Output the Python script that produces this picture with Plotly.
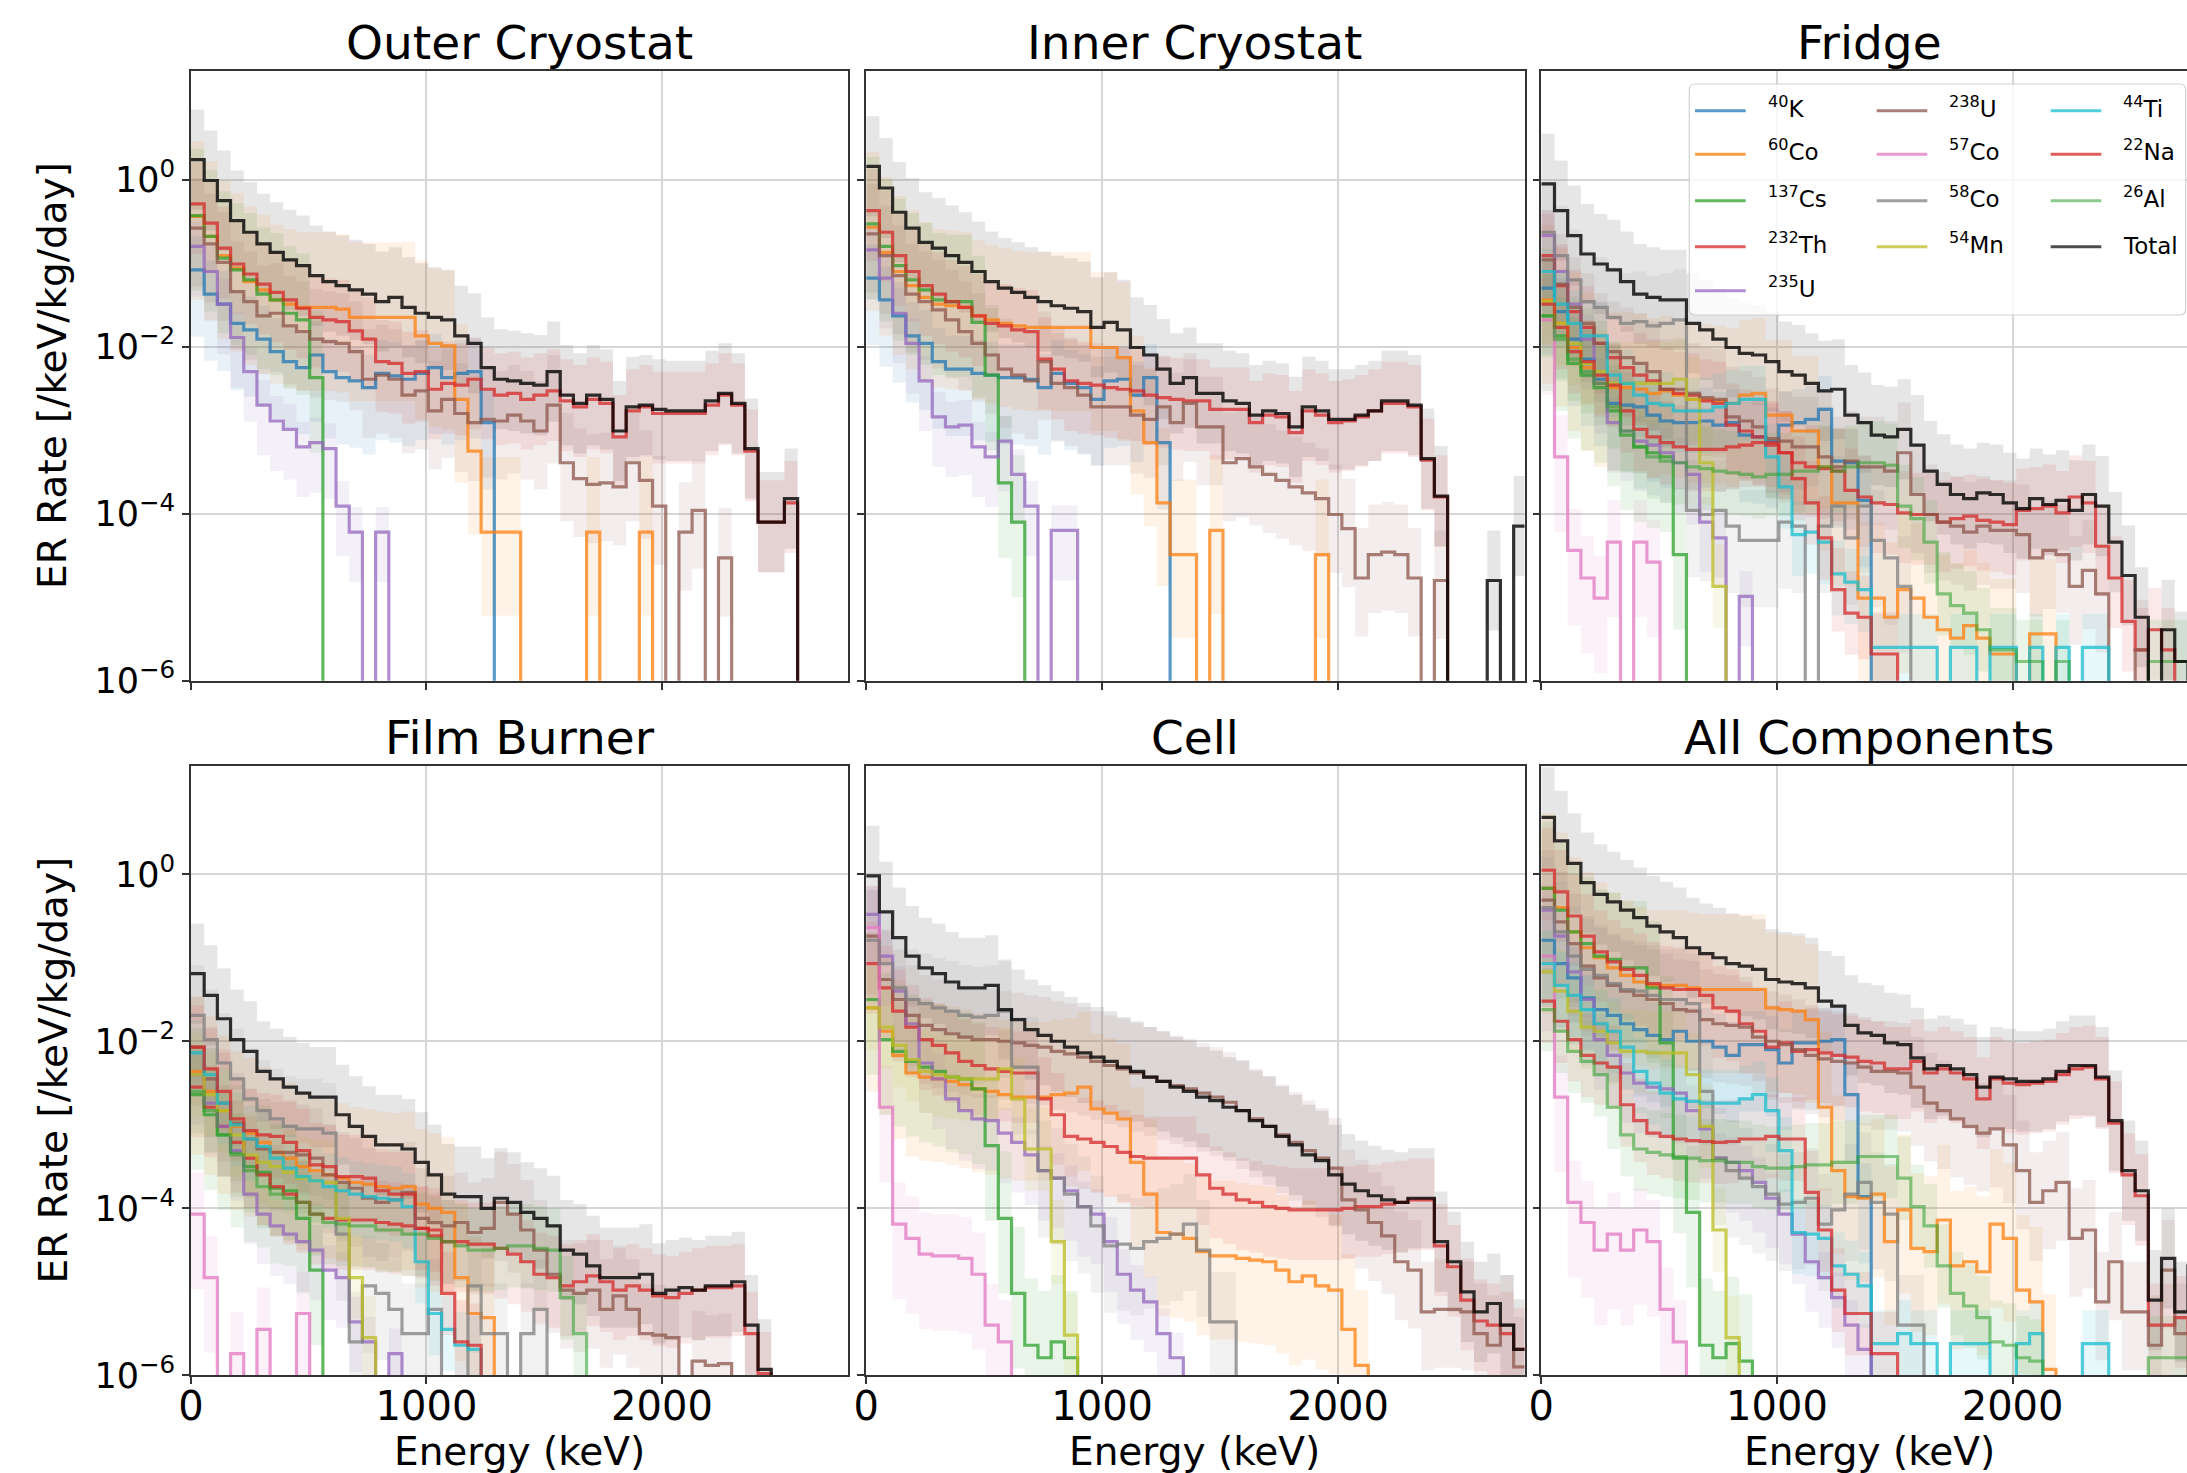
import plotly.graph_objects as go

N = None
N_BINS = 50
BIN_WIDTH_KEV = 56
FLOOR = 1e-9

# ---------------- isotope metadata ----------------
ISOTOPES = ["K40", "Co60", "Cs137", "Th232", "U235", "U238",
            "Co57", "Co58", "Mn54", "Ti44", "Na22", "Al26"]
ISO_LABELS = ["<sup>40</sup>K", "<sup>60</sup>Co", "<sup>137</sup>Cs", "<sup>232</sup>Th",
              "<sup>235</sup>U", "<sup>238</sup>U", "<sup>57</sup>Co", "<sup>58</sup>Co",
              "<sup>54</sup>Mn", "<sup>44</sup>Ti", "<sup>22</sup>Na", "<sup>26</sup>Al"]
ISO_RGB = [(31, 119, 180), (255, 127, 14), (44, 160, 44), (214, 39, 40), (148, 103, 189),
           (140, 86, 75), (227, 119, 194), (127, 127, 127), (188, 189, 34), (23, 190, 207),
           (214, 39, 40), (44, 160, 44)]
LINE_ALPHA = [0.75, 0.75, 0.75, 0.75, 0.75, 0.75, 0.75, 0.75, 0.75, 0.75, 0.75, 0.55]
# uncertainty band half-widths (decades above / below the central value)
BAND_UP = [0.4, 0.9, 0.8, 0.5, 0.3, 0.6, 0.5, 0.6, 0.5, 0.4, 0.5, 0.5]
BAND_DN = [0.8, 1.0, 0.9, 0.6, 0.6, 0.7, 0.9, 0.8, 0.5, 0.5, 0.5, 0.5]
TOTAL_UP = 0.6
TOTAL_DN = 0.6

# ---------------- data: log10(rate) per 56 keV bin (None = empty) ----------------
# Outer Cryostat
OC_K40 = [-1.08, -1.37, -1.49, -1.72, -1.80, -1.91, -2.06, -2.18, -2.25, -2.10, -2.30, -2.37, -2.41, -2.49,
          -2.32, -2.35, -2.39, -2.32, -2.25, -2.37, -2.32, -2.30, -2.91]
OC_Co60 = [-0.44, -0.68, -0.91, -1.06, -1.22, -1.32, -1.44, -1.49, -1.53, -1.53, -1.53, -1.55, -1.65, -1.65,
           -1.65, -1.65, -1.65, -1.87, -1.96, -1.99, -2.63, -3.25, -4.22, -4.22, -4.22, N, N, N, N, N,
           -4.22, N, N, N, -4.22]
OC_Cs137 = [-0.43, -0.68, -0.94, -1.08, -1.20, -1.37, -1.44, -1.60, -1.68, -2.37]
OC_Th232 = [-0.29, -0.52, -0.82, -1.01, -1.13, -1.25, -1.35, -1.44, -1.54, -1.65, -1.68, -1.70, -1.81, -1.91,
            -2.18, -2.20, -2.32, -2.30, -2.51, -2.44, -2.46, -2.39, -2.51, -2.58, -2.56, -2.63, -2.58, -2.53,
            -2.65, -2.72, -2.63, -2.68, -3.08, -2.77, -2.72, -2.80, -2.80, -2.80, -2.80, -2.70, -2.58, -2.70,
            -3.25, -4.10, -4.10, -3.87]
OC_U235 = [-0.80, -1.10, -1.49, -1.89, -2.30, -2.70, -2.89, -2.99, -3.20, -3.15, -3.22, -3.91, -4.22, N, -4.22]
OC_U238 = [-0.58, -0.77, -0.99, -1.34, -1.46, -1.63, -1.60, -1.75, -1.82, -1.91, -1.94, -1.96, -2.06, -2.39,
           -2.34, -2.39, -2.58, -2.53, -2.77, -2.63, -2.80, -2.91, -2.87, -2.89, -2.82, -2.89, -3.01, -2.70,
           -3.39, -3.58, -3.65, -3.63, -3.68, -3.39, -3.60, -3.91, N, -4.22, -3.96, N, -4.53]
OC_Total = [0.24, -0.01, -0.25, -0.49, -0.63, -0.77, -0.87, -0.96, -1.03, -1.15, -1.22, -1.27, -1.32, -1.37,
            -1.46, -1.41, -1.53, -1.60, -1.65, -1.68, -1.87, -1.96, -2.25, -2.39, -2.41, -2.44, -2.46, -2.30,
            -2.58, -2.68, -2.58, -2.63, -3.01, -2.72, -2.70, -2.75, -2.77, -2.77, -2.77, -2.65, -2.56, -2.68,
            -3.22, -4.10, -4.10, -3.82]

# Inner Cryostat
IC_K40 = [-1.18, -1.44, -1.63, -1.87, -1.96, -2.18, -2.27, -2.27, -2.32, -2.34, -2.37, -2.37, -2.39, -2.49,
          -2.32, -2.44, -2.49, -2.63, -2.41, -2.39, -2.58, -2.37, -3.15]
IC_Co60 = [-0.57, -0.87, -1.10, -1.27, -1.41, -1.49, -1.51, -1.53, -1.63, -1.68, -1.72, -1.75, -1.77, -1.77,
           -1.77, -1.77, -1.77, -2.01, -2.01, -2.13, -2.77, -3.15, -3.87, -4.49, -4.49, N, -4.20, N, N, N,
           N, N, N, N, -4.49]
IC_Cs137 = [-0.53, -0.80, -1.03, -1.20, -1.32, -1.44, -1.46, -1.46, -1.71, -2.34, -3.63, -4.10]
IC_Th232 = [-0.37, -0.63, -0.91, -1.10, -1.27, -1.37, -1.46, -1.53, -1.63, -1.72, -1.75, -1.80, -1.82, -2.15,
            -2.27, -2.41, -2.44, -2.46, -2.49, -2.51, -2.53, -2.58, -2.61, -2.63, -2.65, -2.65, -2.75, -2.75,
            -2.75, -2.91, -2.82, -2.84, -3.03, -2.77, -2.82, -2.91, -2.89, -2.84, -2.77, -2.68, -2.68, -2.72,
            -3.36, -3.80]
IC_U235 = [-0.84, -1.18, -1.60, -1.96, -2.41, -2.84, -2.96, -2.94, -3.20, -3.32, -3.13, -3.53, -3.91, N,
           -4.20, -4.20]
IC_U238 = [-0.65, -0.91, -1.15, -1.37, -1.46, -1.56, -1.68, -1.82, -1.96, -2.10, -2.27, -2.34, -2.41, -2.18,
           -2.44, -2.49, -2.58, -2.72, -2.72, -2.72, -2.82, -2.87, -2.72, -2.91, -2.68, -2.96, -2.96, -3.39,
           -3.34, -3.44, -3.53, -3.60, -3.68, -3.75, -3.82, -4.01, -4.18, -4.77, -4.49, -4.46, -4.49, -4.77,
           N, -4.80]
IC_Total = [0.16, -0.10, -0.39, -0.58, -0.75, -0.82, -0.91, -0.99, -1.10, -1.22, -1.30, -1.35, -1.41, -1.46,
            -1.51, -1.54, -1.58, -1.77, -1.71, -1.80, -2.01, -2.10, -2.27, -2.44, -2.37, -2.56, -2.56, -2.65,
            -2.68, -2.82, -2.77, -2.80, -2.96, -2.72, -2.77, -2.87, -2.87, -2.82, -2.77, -2.65, -2.65, -2.70,
            -3.34, -3.79, N, N, N, -4.80, N, -4.15]

# Fridge
FR_K40 = [-1.30, -1.58, -1.91, -2.15, -2.39, -2.68, -2.70, -2.72, -2.82, -2.89, -2.91, -2.91, -2.89, -2.94,
          -2.91, -3.06, -3.08, -3.13, -2.94, -2.91, -2.87, -2.75, -3.37, -3.39, -3.84]
FR_Co60 = [-1.44, -1.72, -2.01, -2.25, -2.44, -2.49, -2.49, -2.51, -2.56, -2.53, -2.58, -2.63, -2.63, -2.65,
           -2.68, -2.58, -2.56, -2.82, -2.82, -3.01, -3.01, -3.44, -3.87, -3.87, -5.01, -5.01, -5.24, -4.91,
           -5.01, -5.24, -5.39, -5.49, -5.34, -5.49, -5.68, -5.68, N, -5.44, -5.44]
FR_Cs137 = [-1.63, -1.87, -2.20, -2.34, -2.49, -2.77, -3.06, -3.20, -3.27, -3.32, -4.49]
FR_Th232 = [-0.91, -1.27, -1.58, -1.77, -1.96, -2.13, -2.25, -2.34, -2.41, -2.51, -2.56, -2.58, -2.65, -2.68,
            -2.94, -3.01, -3.08, -3.15, -3.27, -3.39, -3.44, -3.46, -3.49, -3.72, -3.80, -3.87, -3.89, -3.99,
            -4.01, -4.01, -4.10, -4.06, -4.03, -4.08, -4.10, -4.13, -3.96, -3.94, -3.91, -3.99, -3.80, -3.87,
            -4.39, -4.77, -5.29, -5.63, -5.39, -5.63]
FR_U235 = [-0.67, -1.10, -1.49, -1.91, -2.44, -2.91, -3.01, -3.13, -3.18, -3.27, -3.39, -3.53, -4.10, -4.29,
           N, -4.99]
FR_U238 = [-0.96, -1.25, -1.53, -1.72, -1.96, -2.06, -2.13, -2.20, -2.30, -2.51, -2.51, -2.56, -2.61, -2.63,
           -2.84, -2.89, -2.96, -3.10, -3.13, -3.20, -3.20, -3.32, -3.44, -3.37, -3.44, -3.44, -3.49, -3.27,
           -3.77, -4.01, -4.10, -4.15, -4.22, -4.15, -4.20, -4.20, -4.25, -4.53, -4.44, -4.49, -4.87, -4.68,
           -4.96, N, N, -5.63]
FR_Co57 = [-1.68, -3.32, -4.44, -4.77, -5.01, -4.34, N, -4.34, -4.58]
FR_Co58 = [-0.63, -0.91, -1.20, -1.46, -1.53, -1.65, -1.72, -1.70, -1.75, -1.72, -1.68, -3.96, -4.01, -3.96,
           -4.15, -4.32, -4.32, -4.32, -4.10, -4.15, N, -4.15, -3.91, -4.29, -3.91, -4.32, -4.53, -4.87]
FR_Mn54 = [-1.46, -1.72, -1.96, -2.20, -2.30, -2.44, -2.44, -2.44, -2.44, -2.44, -2.39, -2.63, -3.39, -4.87]
FR_Ti44 = [-1.10, -1.49, -1.72, -1.87, -1.87, -2.34, -2.44, -2.58, -2.68, -2.70, -2.77, -2.77, -2.77, -2.72,
           -2.68, -2.63, -2.63, -3.32, -3.68, -4.25, -4.22, -4.34, -4.72, -4.82, -4.91, -5.60, -5.60, -5.60,
           -5.60, -5.60, N, -5.60, -5.60, N, -5.60, -5.60, N, -5.60, N, -5.60, N, -5.60, -5.60]
FR_Na22 = [-1.49, -1.77, -2.06, -2.18, -2.34, -2.46, -2.77, -2.99, -3.08, -3.15, -3.20, -3.23, -3.23, -3.23,
           -3.20, -3.18, -3.15, -3.18, -3.27, -3.58, -3.87, -4.29, -4.91, -5.19, -5.24, -5.68, -5.68]
FR_Al26 = [-1.63, -1.91, -2.15, -2.30, -2.44, -2.72, -3.01, -3.20, -3.32, -3.37, -3.39, -3.44, -3.46, -3.49,
           -3.51, -3.53, -3.56, -3.53, -3.53, -3.49, -3.49, -3.44, -3.49, -3.44, -3.39, -3.39, -3.42, -3.91,
           -4.06, -4.34, -4.96, -5.10, -5.19, -5.39, -5.63, -5.63, -5.77, -5.77, N, -5.77, N, N, N, N, N, N,
           -5.77, -5.77, -5.77, -5.77]
FR_Total = [-0.05, -0.37, -0.67, -0.89, -1.01, -1.08, -1.22, -1.37, -1.41, -1.44, -1.44, -1.72, -1.80, -1.91,
            -2.01, -2.08, -2.10, -2.18, -2.30, -2.34, -2.44, -2.53, -2.51, -2.82, -2.91, -3.06, -3.08, -2.99,
            -3.18, -3.49, -3.65, -3.77, -3.82, -3.75, -3.77, -3.87, -3.94, -3.82, -3.89, -3.84, -3.96, -3.77,
            -3.91, -4.34, -4.74, -5.24, N, -5.39, -5.77]

# Film Burner
FB_Co60 = [-2.36, -2.60, -2.83, -3.02, -3.10, -3.21, -3.33, -3.40, -3.50, -3.55, -3.60, -3.64, -3.69, -3.71,
           -3.74, -3.76, -3.74, -3.95, -4.00, -4.05, -4.83, -5.26, -5.31]
FB_Cs137 = [-2.64, -2.88, -3.12, -3.33, -3.50, -3.57, -3.76, -3.79, -4.12, -4.74]
FB_Th232 = [-2.55, -2.79, -3.02, -3.21, -3.40, -3.60, -3.74, -3.83, -3.93, -4.07, -4.12, -4.14, -4.14, -4.14,
            -4.17, -4.19, -4.21, -4.24, -4.33, -4.40, -4.40, -4.43, -4.43, -4.48, -4.55, -4.64, -4.79, -4.83,
            -4.93, -4.88, -4.81, -4.88, -4.98, -4.93, -4.98, -5.05, -5.07, -5.02, -4.98, -4.95, -4.95, -4.93,
            -5.50, -5.98]
FB_U235 = [-2.40, -2.74, -3.02, -3.31, -3.83, -4.07, -4.21, -4.31, -4.40, -4.50, -4.74, -4.83, -5.36, -5.60,
           N, -5.74]
FB_U238 = [-2.07, -2.45, -2.74, -2.98, -3.17, -3.29, -3.33, -3.33, -3.36, -3.40, -3.60, -3.69, -3.76, -3.88,
           -3.93, -3.90, -3.81, -4.12, -4.17, -4.21, -4.17, -4.29, -4.24, -3.93, -4.07, -4.26, -4.50, -4.79,
           -4.98, -5.02, -4.98, -5.21, -5.05, -5.21, -5.50, -5.52, -5.55, N, -5.83, -5.88, -5.86]
FB_Co57 = [-4.07, -4.83, N, -5.74, N, -5.45, N, N, -5.26]
FB_Co58 = [-1.69, -1.98, -2.26, -2.45, -2.69, -2.83, -2.93, -3.02, -3.05, -3.05, -3.10, -4.31, -5.60, -4.93,
           -5.02, -5.21, -5.50, -5.50, -5.21, N, N, -4.93, -5.50, -5.50, N, -5.50, -5.21]
FB_Mn54 = [-2.40, -2.64, -2.83, -3.12, -3.36, -3.45, -3.50, -3.57, -3.64, -3.67, -3.69, -4.12, -4.83, -5.55]
FB_Ti44 = [-2.14, -2.40, -2.74, -3.00, -3.17, -3.26, -3.40, -3.52, -3.62, -3.67, -3.74, -3.79, -3.83, -3.86,
           -3.88, -3.90, -3.98, -4.64, -5.26, -5.45, -5.64, -5.69]
FB_Na22 = [-2.07, -2.33, -2.60, -2.93, -3.07, -3.12, -3.14, -3.21, -3.31, -3.48, -3.50, -3.62, -3.62, -3.64,
           -3.79, -3.83, -3.83, -4.24, -4.26, -5.02, -5.60, -5.64]
FB_Al26 = [-2.60, -2.83, -3.12, -3.36, -3.55, -3.74, -3.83, -3.88, -3.93, -4.07, -4.17, -4.19, -4.21, -4.21,
           -4.26, -4.26, -4.31, -4.31, -4.36, -4.40, -4.45, -4.50, -4.50, -4.48, -4.45, -4.45, -4.48, -4.50,
           -5.07, -5.50]
FB_Total = [-1.19, -1.45, -1.73, -1.98, -2.12, -2.36, -2.45, -2.55, -2.62, -2.67, -2.67, -2.88, -3.02, -3.14,
            -3.24, -3.24, -3.29, -3.45, -3.60, -3.83, -3.86, -3.86, -4.00, -3.88, -3.93, -4.05, -4.12, -4.21,
            -4.50, -4.55, -4.69, -4.83, -4.83, -4.83, -4.79, -5.02, -4.98, -4.95, -4.98, -4.93, -4.93, -4.88,
            -5.40, -5.93]

# Cell
CE_Co60 = [-1.60, -1.88, -2.17, -2.38, -2.43, -2.45, -2.48, -2.52, -2.57, -2.60, -2.64, -2.67, -2.67, -2.67,
           -2.64, -2.62, -2.55, -2.81, -2.86, -2.93, -3.45, -3.83, -4.29, -4.31, -4.36, -4.52, -4.57, -4.57,
           -4.60, -4.62, -4.64, -4.74, -4.88, -4.81, -4.93, -4.98, -5.45, -5.88]
CE_Cs137 = [-1.50, -1.98, -2.12, -2.24, -2.31, -2.36, -2.43, -2.45, -2.57, -3.25, -4.12, -5.02, -5.64, -5.79,
            -5.60, -5.79]
CE_Th232 = [-1.07, -1.36, -1.64, -1.83, -1.98, -2.05, -2.14, -2.24, -2.29, -2.33, -2.36, -2.38, -2.38, -2.69,
            -2.88, -3.14, -3.17, -3.21, -3.26, -3.33, -3.38, -3.40, -3.40, -3.40, -3.40, -3.60, -3.76, -3.83,
            -3.90, -3.93, -3.98, -4.00, -4.02, -4.02, -4.02, -4.02, -4.00, -3.98, -3.98, -3.95, -3.93, -3.90,
            -3.90, -4.45, -4.70, -5.10, -5.35, -5.40, -5.50, -5.69]
CE_U235 = [-0.48, -0.98, -1.40, -1.79, -2.26, -2.45, -2.69, -2.83, -2.93, -2.95, -3.10, -3.21, -3.36, -3.55,
           -3.64, -3.79, -3.98, -4.07, -4.40, -4.79, -4.98, -5.12, -5.50, -5.79]
CE_U238 = [-0.74, -1.26, -1.50, -1.69, -1.81, -1.86, -1.91, -1.95, -1.98, -1.98, -2.00, -2.02, -2.05, -2.07,
           -2.12, -2.15, -2.19, -2.24, -2.29, -2.33, -2.38, -2.43, -2.48, -2.53, -2.57, -2.62, -2.67, -2.73,
           -2.83, -2.93, -3.02, -3.12, -3.21, -3.31, -3.40, -3.52, -3.90, -4.02, -4.17, -4.33, -4.64, -4.74,
           -5.24, -5.21, -5.21, -5.24, -5.50, -5.64, -5.40, -5.90]
CE_Co57 = [-0.64, -2.79, -4.19, -4.36, -4.55, -4.57, -4.57, -4.60, -4.79, -5.40, -5.60]
CE_Co58 = [-0.79, -1.07, -1.36, -1.50, -1.55, -1.60, -1.64, -1.69, -1.71, -1.69, -1.64, -2.31, -2.31, -3.55,
           -3.64, -3.83, -3.98, -4.21, -4.45, -4.43, -4.48, -4.40, -4.36, -4.31, -4.19, -4.50, -5.36, -5.36]
CE_Mn54 = [-1.60, -1.83, -2.05, -2.22, -2.36, -2.40, -2.43, -2.45, -2.45, -2.45, -2.33, -2.69, -3.29, -3.29,
           -4.40, -5.52]
CE_Total = [-0.02, -0.45, -0.76, -0.98, -1.12, -1.19, -1.29, -1.36, -1.36, -1.33, -1.62, -1.74, -1.86, -1.93,
            -2.00, -2.07, -2.14, -2.19, -2.24, -2.31, -2.36, -2.43, -2.48, -2.55, -2.60, -2.67, -2.71, -2.79,
            -2.83, -2.95, -3.02, -3.14, -3.24, -3.36, -3.43, -3.60, -3.71, -3.79, -3.85, -3.90, -3.93, -3.88,
            -3.88, -4.40, -4.64, -5.00, -5.24, -5.14, -5.40, -5.69]

# All Components
AL_K40 = [-0.79, -1.07, -1.24, -1.48, -1.62, -1.69, -1.79, -1.86, -1.93, -1.98, -1.88, -2.00, -2.00, -2.07,
          -2.17, -2.04, -2.04, -2.10, -2.26, -2.02, -2.02, -2.00, -1.98, -2.64, -3.86]
AL_Co60 = [-0.17, -0.40, -0.69, -0.88, -1.00, -1.12, -1.21, -1.29, -1.33, -1.33, -1.33, -1.36, -1.38, -1.38,
           -1.38, -1.38, -1.38, -1.60, -1.62, -1.64, -1.74, -2.79, -3.55, -3.86, -3.88, -3.83, -4.40, -4.02,
           -4.48, -4.52, -4.14, -4.69, -4.64, -4.76, -4.19, -4.36, -4.98, -5.12, -5.93]
AL_Cs137 = [-0.17, -0.43, -0.69, -0.83, -0.98, -1.02, -1.12, -1.12, -1.36, -2.02, -3.40, -4.05, -5.64, -5.79,
            -5.62, -5.83]
AL_Th232 = [0.05, -0.21, -0.50, -0.74, -0.93, -1.05, -1.14, -1.21, -1.31, -1.36, -1.38, -1.38, -1.45, -1.60,
            -1.64, -1.79, -1.88, -2.07, -2.02, -2.12, -2.10, -2.14, -2.17, -2.19, -2.24, -2.26, -2.33, -2.33,
            -2.24, -2.38, -2.33, -2.38, -2.45, -2.69, -2.45, -2.50, -2.52, -2.50, -2.48, -2.40, -2.33, -2.31,
            -2.45, -2.98, -3.60, -3.85, -5.40, -5.40, -5.31, -5.50]
AL_U235 = [-0.43, -0.74, -1.17, -1.50, -1.98, -2.17, -2.38, -2.50, -2.55, -2.57, -2.62, -2.83, -3.05, -3.40,
           -3.45, -3.55, -3.69, -3.88, -4.07, -4.31, -4.64, -4.83, -5.07, -5.40, -5.69]
AL_U238 = [-0.31, -0.57, -0.83, -1.10, -1.24, -1.33, -1.40, -1.45, -1.50, -1.55, -1.62, -1.64, -1.74, -1.79,
           -1.81, -1.83, -1.95, -2.00, -2.04, -2.10, -2.17, -2.21, -2.24, -2.26, -2.31, -2.36, -2.36, -2.38,
           -2.55, -2.74, -2.83, -2.93, -3.02, -3.10, -3.05, -3.24, -3.55, -3.93, -3.79, -3.69, -4.36, -4.26,
           -5.12, -4.64, -5.24, -5.24, -5.64, -4.74, -5.50]
AL_Co57 = [-0.98, -2.67, -3.93, -4.17, -4.50, -4.31, -4.50, -4.26, -4.40, -5.21, -5.60]
AL_Co58 = [-0.40, -0.69, -0.98, -1.14, -1.21, -1.31, -1.38, -1.40, -1.45, -1.50, -1.50, -1.55, -2.60, -3.40,
           -3.55, -3.64, -3.74, -3.83, -3.95, -3.93, -3.88, -4.19, -4.02, -3.83, -3.69, -3.93, -4.07, -5.40,
           -5.40]
AL_Mn54 = [-1.17, -1.40, -1.64, -1.83, -1.88, -2.02, -2.12, -2.12, -2.14, -2.14, -2.14, -2.40, -3.02, -4.26,
           -5.55]
AL_Ti44 = [-1.07, -1.33, -1.45, -1.62, -1.79, -1.88, -2.07, -2.36, -2.50, -2.62, -2.69, -2.72, -2.74, -2.74,
           -2.74, -2.69, -2.64, -2.83, -3.31, -4.29, -4.31, -4.36, -4.69, -4.79, -4.93, -5.62, -5.62, -5.50,
           -5.62, -5.62, N, -5.62, -5.62, -5.62, N, N, -5.62, -5.50, N, N, N, -5.62, -5.62]
AL_Na22 = [-1.52, -1.76, -1.98, -2.17, -2.26, -2.31, -2.76, -2.95, -3.10, -3.14, -3.17, -3.19, -3.20, -3.21,
           -3.20, -3.17, -3.17, -3.14, -3.17, -3.17, -3.81, -4.26, -4.98, -5.26, -5.26, -5.74, -5.74]
AL_Al26 = [-1.62, -1.88, -2.12, -2.24, -2.40, -2.79, -3.12, -3.29, -3.33, -3.36, -3.38, -3.40, -3.43, -3.43,
           -3.45, -3.45, -3.50, -3.52, -3.52, -3.50, -3.48, -3.48, -3.45, -3.45, -3.38, -3.38, -3.38, -3.64,
           -3.98, -4.21, -4.69, -5.02, -5.17, -5.31, -5.60, -5.64, -5.79, -5.83, N, N, N, N, N, N, N, N,
           -5.79, -5.79, -5.79, -5.79]
AL_Total = [0.68, 0.40, 0.13, -0.10, -0.24, -0.33, -0.43, -0.52, -0.62, -0.69, -0.76, -0.88, -0.95, -1.00,
            -1.07, -1.10, -1.14, -1.26, -1.29, -1.31, -1.36, -1.52, -1.58, -1.81, -1.90, -1.93, -2.02, -2.04,
            -2.20, -2.33, -2.29, -2.33, -2.40, -2.55, -2.43, -2.45, -2.48, -2.48, -2.45, -2.36, -2.29, -2.29,
            -2.43, -2.95, -3.55, -3.79, -5.10, -4.60, -5.24, -4.69]

PANEL_TITLES = ["Outer Cryostat", "Inner Cryostat", "Fridge", "Film Burner", "Cell", "All Components"]
PANEL_SERIES = [
    {"K40": OC_K40, "Co60": OC_Co60, "Cs137": OC_Cs137, "Th232": OC_Th232, "U235": OC_U235, "U238": OC_U238},
    {"K40": IC_K40, "Co60": IC_Co60, "Cs137": IC_Cs137, "Th232": IC_Th232, "U235": IC_U235, "U238": IC_U238},
    {"K40": FR_K40, "Co60": FR_Co60, "Cs137": FR_Cs137, "Th232": FR_Th232, "U235": FR_U235, "U238": FR_U238,
     "Co57": FR_Co57, "Co58": FR_Co58, "Mn54": FR_Mn54, "Ti44": FR_Ti44, "Na22": FR_Na22, "Al26": FR_Al26},
    {"Co60": FB_Co60, "Cs137": FB_Cs137, "Th232": FB_Th232, "U235": FB_U235, "U238": FB_U238,
     "Co57": FB_Co57, "Co58": FB_Co58, "Mn54": FB_Mn54, "Ti44": FB_Ti44, "Na22": FB_Na22, "Al26": FB_Al26},
    {"Co60": CE_Co60, "Cs137": CE_Cs137, "Th232": CE_Th232, "U235": CE_U235, "U238": CE_U238,
     "Co57": CE_Co57, "Co58": CE_Co58, "Mn54": CE_Mn54},
    {"K40": AL_K40, "Co60": AL_Co60, "Cs137": AL_Cs137, "Th232": AL_Th232, "U235": AL_U235, "U238": AL_U238,
     "Co57": AL_Co57, "Co58": AL_Co58, "Mn54": AL_Mn54, "Ti44": AL_Ti44, "Na22": AL_Na22, "Al26": AL_Al26},
]
PANEL_TOTALS = [OC_Total, IC_Total, FR_Total, FB_Total, CE_Total, AL_Total]

Y_TICK_VALS = [1e-6, 1e-4, 1e-2, 1]
Y_TICK_TEXT = ["10<sup>\u22126</sup>", "10<sup>\u22124</sup>", "10<sup>\u22122</sup>", "10<sup>0</sup>"]
X_TICK_VALS = [0, 1000, 2000]
X_RANGES = [[0, 2790], [0, 2790], [0, 2740], [0, 2790], [0, 2790], [0, 2740]]

# ---------------- geometry (pixels) ----------------
W, H = 2187, 1473
COL_PX = [(191.0, 848.0), (866.2, 1524.5), (1541.3, 2187.0)]
COL_FULL_W = 657.0
ROW_PX = [(71.1, 680.7), (765.7, 1375.3)]
FONT = "DejaVu Sans"
EDGES = [i * BIN_WIDTH_KEV for i in range(N_BINS + 1)]


def padded(vals):
    return list(vals) + [None] * (N_BINS - len(vals))


def step_y(vals, shift=0.0):
    ys = [FLOOR if v is None else 10 ** (v + shift) for v in padded(vals)]
    return ys + [ys[-1]]


def rgba(rgb, a):
    return "rgba(%d,%d,%d,%.3f)" % (rgb[0], rgb[1], rgb[2], a)


fig = go.Figure()
for k in range(6):
    xa, ya = "x%d" % (k + 1), "y%d" % (k + 1)
    series = PANEL_SERIES[k]
    total = PANEL_TOTALS[k]
    fig.add_trace(go.Scatter(x=EDGES, y=step_y(total, -TOTAL_DN), mode="lines", line=dict(width=0, shape="hv"),
                             xaxis=xa, yaxis=ya, showlegend=False, hoverinfo="skip"))
    fig.add_trace(go.Scatter(x=EDGES, y=step_y(total, TOTAL_UP), mode="lines", line=dict(width=0, shape="hv"),
                             fill="tonexty", fillcolor="rgba(128,128,128,0.20)",
                             xaxis=xa, yaxis=ya, showlegend=False, hoverinfo="skip"))
    for i, iso in enumerate(ISOTOPES):
        if iso not in series:
            continue
        vals = series[iso]
        fig.add_trace(go.Scatter(x=EDGES, y=step_y(vals, -BAND_DN[i]), mode="lines",
                                 line=dict(width=0, shape="hv"), xaxis=xa, yaxis=ya,
                                 showlegend=False, hoverinfo="skip"))
        fig.add_trace(go.Scatter(x=EDGES, y=step_y(vals, BAND_UP[i]), mode="lines",
                                 line=dict(width=0, shape="hv"), fill="tonexty",
                                 fillcolor=rgba(ISO_RGB[i], 0.10), xaxis=xa, yaxis=ya,
                                 showlegend=False, hoverinfo="skip"))
    for i, iso in enumerate(ISOTOPES):
        if iso not in series:
            continue
        fig.add_trace(go.Scatter(x=EDGES, y=step_y(series[iso]), mode="lines",
                                 line=dict(width=3.2, shape="hv", color=rgba(ISO_RGB[i], LINE_ALPHA[i])),
                                 xaxis=xa, yaxis=ya, showlegend=False, name=iso))
    fig.add_trace(go.Scatter(x=EDGES, y=step_y(total), mode="lines",
                             line=dict(width=3.2, shape="hv", color="rgba(0,0,0,0.8)"),
                             xaxis=xa, yaxis=ya, showlegend=False, name="Total"))

layout = dict(width=W, height=H, margin=dict(l=0, r=0, t=0, b=0, autoexpand=False),
              paper_bgcolor="white", plot_bgcolor="white",
              font=dict(family=FONT, color="black"), showlegend=False)
annotations = []
shapes = []
for k in range(6):
    r, c = divmod(k, 3)
    x0, x1 = COL_PX[c]
    y0, y1 = ROW_PX[r]
    layout["xaxis%d" % (k + 1)] = dict(
        domain=[x0 / W, x1 / W], range=X_RANGES[k], anchor="y%d" % (k + 1), automargin=False,
        tickvals=X_TICK_VALS, ticktext=[str(v) for v in X_TICK_VALS], showticklabels=(r == 1),
        ticks="outside", ticklen=7, tickwidth=1.6, tickcolor="#333", ticklabelstandoff=-12,
        showline=True, linecolor="#333", linewidth=1.6, mirror=True,
        showgrid=True, gridcolor="#d6d6d6", gridwidth=1.5, zeroline=False,
        tickfont=dict(size=40, family=FONT, color="black"))
    layout["yaxis%d" % (k + 1)] = dict(
        domain=[1 - y1 / H, 1 - y0 / H], type="log", range=[-6, 1.3], anchor="x%d" % (k + 1),
        automargin=False,
        tickvals=Y_TICK_VALS, ticktext=Y_TICK_TEXT, showticklabels=(c == 0),
        ticks="outside", ticklen=7, tickwidth=1.6, tickcolor="#333",
        showline=True, linecolor="#333", linewidth=1.6, mirror=(c < 2),
        showgrid=True, gridcolor="#d6d6d6", gridwidth=1.5, zeroline=False,
        tickfont=dict(size=35, family=FONT, color="black"))
    annotations.append(dict(text=PANEL_TITLES[k], x=(x0 + COL_FULL_W / 2) / W, y=1 - (y0 + 1) / H,
                            xref="paper", yref="paper", xanchor="center", yanchor="bottom",
                            showarrow=False, font=dict(size=47, family=FONT, color="black")))
    if r == 1:
        annotations.append(dict(text="Energy (keV)", x=(x0 + COL_FULL_W / 2) / W, y=1 - 1451 / H,
                                xref="paper", yref="paper", xanchor="center", yanchor="middle",
                                showarrow=False, font=dict(size=39, family=FONT, color="black")))
    if c == 0:
        annotations.append(dict(text="ER Rate [/keV/kg/day]", x=53 / W, y=1 - (y0 + y1) / 2 / H,
                                xref="paper", yref="paper", xanchor="center", yanchor="middle",
                                textangle=-90, showarrow=False,
                                font=dict(size=39, family=FONT, color="black")))

# ---------------- legend (drawn in the Fridge panel) ----------------
LEG_BOX = (1689.3, 84.0, 2185.7, 315.0)
LEG_COLS = [(1695.0, 1745.7, 1766.0), (1876.7, 1927.3, 1946.7), (2050.7, 2101.3, 2120.7)]
LEG_ROWS = [110.7, 154.3, 200.7, 246.7, 290.7]
LEG_TEXT_DY = -4.0
LEG_LAYOUT = [["K40", "Co60", "Cs137", "Th232", "U235"],
              ["U238", "Co57", "Co58", "Mn54"],
              ["Ti44", "Na22", "Al26", "Total"]]
bx0, by0, bx1, by1 = LEG_BOX
rad = 6.0
px = lambda x: x / W
py = lambda y: 1 - y / H
path = ("M %f,%f L %f,%f Q %f,%f %f,%f L %f,%f Q %f,%f %f,%f L %f,%f Q %f,%f %f,%f L %f,%f Q %f,%f %f,%f Z" % (
    px(bx0 + rad), py(by0), px(bx1 - rad), py(by0), px(bx1), py(by0), px(bx1), py(by0 + rad),
    px(bx1), py(by1 - rad), px(bx1), py(by1), px(bx1 - rad), py(by1),
    px(bx0 + rad), py(by1), px(bx0), py(by1), px(bx0), py(by1 - rad),
    px(bx0), py(by0 + rad), px(bx0), py(by0), px(bx0 + rad), py(by0)))
shapes.append(dict(type="path", path=path, xref="paper", yref="paper",
                   fillcolor="rgba(255,255,255,0.8)", line=dict(color="rgba(204,204,204,0.9)", width=1.2),
                   layer="above"))
for ci, col in enumerate(LEG_LAYOUT):
    lx0, lx1, tx = LEG_COLS[ci]
    for ri, name in enumerate(col):
        yy = LEG_ROWS[ri]
        if name == "Total":
            color, label, dy = "rgba(0,0,0,0.7)", "Total", LEG_TEXT_DY + 3
        else:
            i = ISOTOPES.index(name)
            color, label, dy = rgba(ISO_RGB[i], LINE_ALPHA[i]), ISO_LABELS[i], LEG_TEXT_DY
        shapes.append(dict(type="line", xref="paper", yref="paper", x0=px(lx0), x1=px(lx1),
                           y0=py(yy), y1=py(yy), line=dict(color=color, width=3), layer="above"))
        annotations.append(dict(text=label, x=px(tx), y=py(yy + dy), xref="paper", yref="paper",
                                xanchor="left", yanchor="middle", showarrow=False,
                                font=dict(size=23, family=FONT, color="black")))

layout["annotations"] = annotations
layout["shapes"] = shapes
fig.update_layout(**layout)
fig.write_html("out.html")
